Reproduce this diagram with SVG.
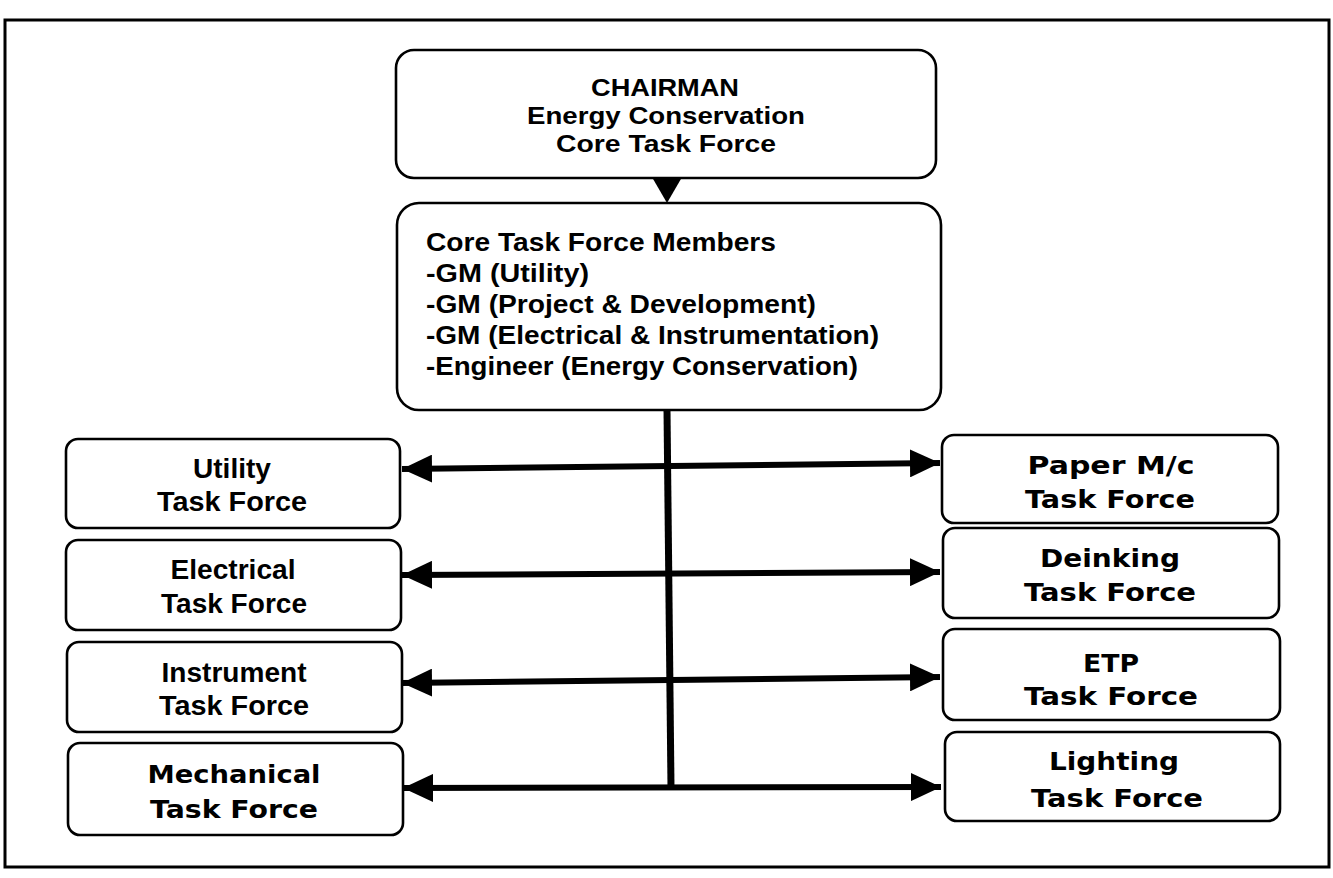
<svg xmlns="http://www.w3.org/2000/svg" width="1333" height="878" viewBox="0 0 1333 878">
<style>
.box{fill:#fff;stroke:#000;stroke-width:2.6}
.n{font-family:"Liberation Sans",Arial,sans-serif;font-weight:bold;fill:#000}
.t{font-family:"DejaVu Sans",Verdana,sans-serif;font-weight:bold;fill:#000}
.c{text-anchor:middle}
.conn{stroke:#000;fill:none}
</style>
<defs>
<marker id="ah" viewBox="0 0 30 28" refX="30" refY="14" markerWidth="30" markerHeight="28" markerUnits="userSpaceOnUse" orient="auto-start-reverse">
<path d="M0,0 L30,14 L0,28 Z" fill="#000"/>
</marker>
</defs>
<rect x="5" y="20" width="1324" height="847" fill="#fff" stroke="#000" stroke-width="3"/>

<g id="connectors">
<polygon points="649,172 685,172 667,203" fill="#000"/>
<line class="conn" x1="667" y1="410" x2="671" y2="788" stroke-width="7"/>
<line class="conn" x1="402" y1="469" x2="940" y2="463" stroke-width="6" marker-start="url(#ah)" marker-end="url(#ah)"/>
<line class="conn" x1="402" y1="575" x2="940" y2="572" stroke-width="6" marker-start="url(#ah)" marker-end="url(#ah)"/>
<line class="conn" x1="402" y1="683" x2="940" y2="677" stroke-width="6" marker-start="url(#ah)" marker-end="url(#ah)"/>
<line class="conn" x1="403" y1="788" x2="941" y2="787" stroke-width="6" marker-start="url(#ah)" marker-end="url(#ah)"/>
</g>

<g id="chairman">
<rect class="box" x="396" y="50" width="540" height="128" rx="18"/>
<text class="n c" x="665" y="96" font-size="24" textLength="148" lengthAdjust="spacingAndGlyphs">CHAIRMAN</text>
<text class="n c" x="666" y="124" font-size="24" textLength="278" lengthAdjust="spacingAndGlyphs">Energy Conservation</text>
<text class="n c" x="666" y="152" font-size="24" textLength="220" lengthAdjust="spacingAndGlyphs">Core Task Force</text>
</g>

<g id="core-members">
<rect class="box" x="397" y="203" width="544" height="207" rx="22"/>
<text class="n" x="426" y="251" font-size="25" textLength="350" lengthAdjust="spacingAndGlyphs">Core Task Force Members</text>
<text class="n" x="426" y="282" font-size="25" textLength="163" lengthAdjust="spacingAndGlyphs">-GM (Utility)</text>
<text class="n" x="426" y="313" font-size="25" textLength="390" lengthAdjust="spacingAndGlyphs">-GM (Project &amp; Development)</text>
<text class="n" x="426" y="344" font-size="25" textLength="453" lengthAdjust="spacingAndGlyphs">-GM (Electrical &amp; Instrumentation)</text>
<text class="n" x="426" y="375" font-size="25" textLength="432" lengthAdjust="spacingAndGlyphs">-Engineer (Energy Conservation)</text>
</g>

<g id="utility">
<rect class="box" x="66" y="439" width="334" height="89" rx="12"/>
<text class="n c" x="232" y="478" font-size="27" textLength="78" lengthAdjust="spacingAndGlyphs">Utility</text>
<text class="n c" x="232" y="511" font-size="27" textLength="150" lengthAdjust="spacingAndGlyphs">Task Force</text>
</g>
<g id="electrical">
<rect class="box" x="66" y="540" width="335" height="90" rx="12"/>
<text class="n c" x="233" y="579" font-size="27" textLength="125" lengthAdjust="spacingAndGlyphs">Electrical</text>
<text class="n c" x="234" y="613" font-size="27" textLength="146" lengthAdjust="spacingAndGlyphs">Task Force</text>
</g>
<g id="instrument">
<rect class="box" x="67" y="642" width="335" height="90" rx="12"/>
<text class="n c" x="234" y="682" font-size="27" textLength="145" lengthAdjust="spacingAndGlyphs">Instrument</text>
<text class="n c" x="234" y="715" font-size="27" textLength="150" lengthAdjust="spacingAndGlyphs">Task Force</text>
</g>
<g id="mechanical">
<rect class="box" x="68" y="743" width="335" height="92" rx="12"/>
<text class="t c" x="234" y="783" font-size="25" textLength="173" lengthAdjust="spacingAndGlyphs">Mechanical</text>
<text class="t c" x="234" y="818" font-size="25" textLength="168" lengthAdjust="spacingAndGlyphs">Task Force</text>
</g>

<g id="paper">
<rect class="box" x="942" y="435" width="336" height="88" rx="12"/>
<text class="t c" x="1111" y="474" font-size="25" textLength="167" lengthAdjust="spacingAndGlyphs">Paper M/c</text>
<text class="t c" x="1110" y="508" font-size="25" textLength="170" lengthAdjust="spacingAndGlyphs">Task Force</text>
</g>
<g id="deinking">
<rect class="box" x="943" y="528" width="336" height="90" rx="12"/>
<text class="t c" x="1110" y="567" font-size="25" textLength="140" lengthAdjust="spacingAndGlyphs">Deinking</text>
<text class="t c" x="1110" y="601" font-size="25" textLength="172" lengthAdjust="spacingAndGlyphs">Task Force</text>
</g>
<g id="etp">
<rect class="box" x="943" y="629" width="337" height="91" rx="12"/>
<text class="t c" x="1111" y="672" font-size="25" textLength="56" lengthAdjust="spacingAndGlyphs">ETP</text>
<text class="t c" x="1111" y="705" font-size="25" textLength="174" lengthAdjust="spacingAndGlyphs">Task Force</text>
</g>
<g id="lighting">
<rect class="box" x="945" y="732" width="335" height="89" rx="12"/>
<text class="t c" x="1114" y="770" font-size="25" textLength="130" lengthAdjust="spacingAndGlyphs">Lighting</text>
<text class="t c" x="1117" y="807" font-size="25" textLength="172" lengthAdjust="spacingAndGlyphs">Task Force</text>
</g>
</svg>
